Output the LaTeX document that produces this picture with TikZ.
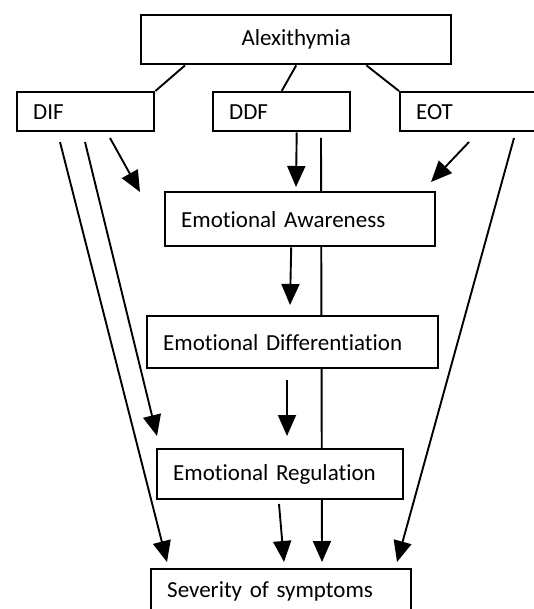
\documentclass[tikz,border=0pt]{standalone}
\usepackage{fontspec}
\setmainfont{Carlito}[Ligatures={NoCommon}]
\usetikzlibrary{arrows.meta}
\begin{document}
\begin{tikzpicture}[x=1pt,y=-1pt,
main/.style = {draw, line width=2.4pt, fill=white, anchor=north west, inner xsep=16pt, align=left, font=\fontsize{23}{27}\selectfont},
arrow/.style = {line width=1.9pt, -{Triangle[length=21pt,width=18pt]}},
link/.style = {line width=1.9pt}]
\useasboundingbox (0,0) rectangle (534,609);
\clip (0,0) rectangle (534,609);
\coordinate (dif1) at (110,138);
\coordinate (dif2) at (85,142);
\coordinate (dif3) at (60,142);
\coordinate (ddf1) at (321,138);
\coordinate (eot1) at (469,142);
\coordinate (eot2) at (514,138);
\coordinate (ea1) at (140,192);
\coordinate (ea2) at (431,182);
\coordinate (ea3) at (296,187);
\coordinate (ed1) at (290,305);
\coordinate (ed2) at (287,380);
\coordinate (er1) at (157,436);
\coordinate (er2) at (287,436);
\coordinate (er3) at (279,504);
\coordinate (sev1) at (167,562);
\coordinate (sev2) at (284,562);
\coordinate (sev3) at (322,562);
\coordinate (sev4) at (397,562);
\draw[arrow] (ddf1) -- (sev3);
\node[main, text width=278pt, minimum height=49pt, align=center] (alex) at (140,14) {Alexithymia};
\node[main, text width=105pt, minimum height=39pt] (DIF) at (16,91) {DIF};
\node[main, text width=105pt, minimum height=39pt] (DDF) at (212,91) {DDF};
\node[main, text width=118pt, minimum height=39pt] (EOT) at (399,91) {EOT};
\node[main, text width=238pt, minimum height=54pt] (EA) at (164,191) {Emotional Awareness};
\node[main, text width=259pt, minimum height=52pt] (ED) at (146,315) {Emotional Differentiation};
\node[main, text width=214pt, minimum height=50pt] (ER) at (156,448) {Emotional Regulation};
\node[main, text width=228pt, minimum height=44pt] (SEV) at (150,568) {Severity of symptoms};
\draw[link] ([xshift=45pt]alex.south west) -- (DIF.north east);
\draw[link] (alex.south) -- (DDF.north);
\draw[link] ([xshift=-86pt]alex.south east) -- (EOT.north west);
\draw[arrow] (dif1) -- (ea1);
\draw[arrow] (dif2) -- (er1);
\draw[arrow] (dif3) -- (sev1);
\draw[arrow] ([xshift=15pt]DDF.south) -- (ea3);
\draw[arrow] (eot1) -- (ea2);
\draw[arrow] (eot2) -- (sev4);
\draw[arrow] ([xshift=-9pt]EA.south) -- (ed1);
\draw[arrow] (ed2) -- (er2);
\draw[arrow] (er3) -- (sev2);
\end{tikzpicture}
\end{document}
